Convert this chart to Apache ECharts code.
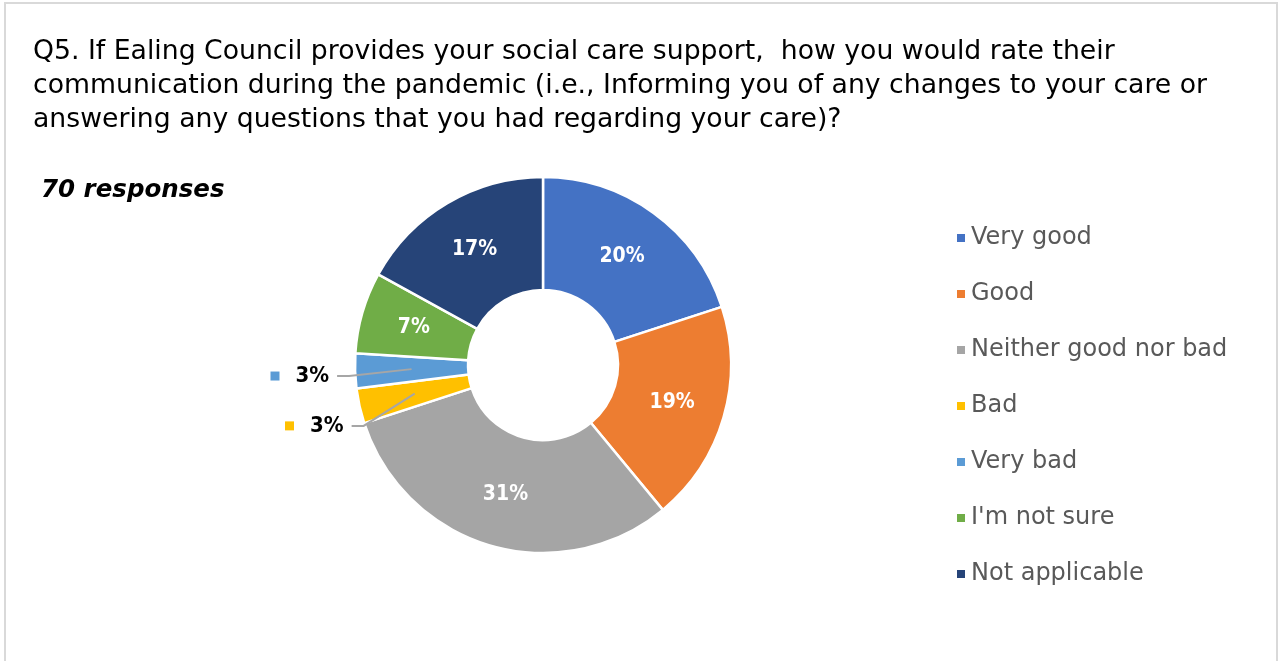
<!DOCTYPE html>
<html>
<head>
<meta charset="utf-8">
<script src="https://cdn.jsdelivr.net/npm/echarts@6/dist/echarts.min.js"></script>
<style>
  html, body { margin: 0; padding: 0; background: #fff; }
  #frame { position: absolute; left: 4px; top: 2px; width: 1274px; height: 700px;
           border: 2px solid #d9d9d9; box-sizing: border-box; }
  #chart { position: absolute; left: 0; top: 0; width: 1282px; height: 661px; }
</style>
</head>
<body>
<div id="frame"></div>
<div id="chart"></div>
<script>
// Survey answers and their share of the 70 responses (percent)
const categories = ['Very good', 'Good', 'Neither good nor bad', 'Bad', 'Very bad', "I'm not sure", 'Not applicable'];
const shares = [20, 19, 31, 3, 3, 7, 17];
const colors = ['#4472C4', '#ED7D31', '#A5A5A5', '#FFC000', '#5B9BD5', '#70AD47', '#264478'];
// Small slices get their label outside, with a leader line
const outsideLabelled = ['Bad', 'Very bad'];

const titleText = 'Q5. If Ealing Council provides your social care support,  how you would rate their\n' +
  'communication during the pandemic (i.e., Informing you of any changes to your care or\n' +
  'answering any questions that you had regarding your care)?';
const subtitleText = '70 responses';

const FONT = '"DejaVu Sans", sans-serif';
const LABEL_FONT = '"DejaVu Sans Condensed", "DejaVu Sans", sans-serif';

const PIE_CENTER = [543, 365];
const PIE_RADIUS = [75, 188];
// leader lines start from the middle of the ring
const MID_RING = (PIE_RADIUS[0] + PIE_RADIUS[1]) / 2;
// shift of the outside callouts from their default spot
const outsideNudge = { 'Very bad': [0, 5], 'Bad': [10, 19] };

function calloutLayout(params) {
  const nudge = outsideNudge[categories[params.dataIndex]];
  if (!nudge || !params.labelLinePoints) return {};
  const r = params.labelRect;
  const x = r.x + r.width + nudge[0];
  const y = r.y + r.height / 2 + nudge[1];
  // point on the slice's mid-ring along the same radius as the default leader start
  const p0 = params.labelLinePoints[0];
  const vx = p0[0] - PIE_CENTER[0], vy = p0[1] - PIE_CENTER[1];
  const len = Math.sqrt(vx * vx + vy * vy);
  const anchor = [PIE_CENTER[0] + vx / len * MID_RING, PIE_CENTER[1] + vy / len * MID_RING];
  const end = [x + 8, y];
  const elbow = [end[0] + 12, y];
  return {
    x: x, y: y, align: 'right', verticalAlign: 'middle',
    labelLinePoints: [anchor, elbow, end]
  };
}

// Ring slices with their inside percentages
const ringData = categories.map((name, i) => ({
  name: name, value: shares[i], itemStyle: { color: colors[i] },
  label: { show: !outsideLabelled.includes(name) }
}));

// Same slices again, invisible, carrying only the outside callouts so their
// leader lines are painted over the ring
const calloutData = categories.map((name, i) => {
  const item = { name: name, value: shares[i], label: { show: false }, labelLine: { show: false } };
  if (outsideLabelled.includes(name)) {
    item.label = {
      show: true,
      position: 'outside',
      distanceToLabelLine: 12,
      formatter: '{sq|}{v|{c}%}',
      rich: {
        sq: { width: 9, height: 9, backgroundColor: colors[i] },
        v: { fontSize: 22, fontWeight: 'bold', color: '#000', fontFamily: LABEL_FONT, padding: [0, 0, 0, 16] }
      }
    };
    item.labelLine = { show: true };
  }
  return item;
});

const chart = echarts.init(document.getElementById('chart'), null, { renderer: 'canvas' });
chart.setOption({
  animation: false,
  textStyle: { fontFamily: FONT },
  title: [
    {
      text: titleText, left: 28, top: 30,
      textStyle: { fontSize: 26.7, fontWeight: 'normal', color: '#000', lineHeight: 34, fontFamily: FONT }
    },
    {
      text: subtitleText, left: 36, top: 173,
      textStyle: { fontSize: 24.5, fontWeight: 'bold', fontStyle: 'italic', color: '#000', fontFamily: FONT }
    }
  ],
  legend: {
    orient: 'vertical', left: 950, top: 221,
    itemWidth: 10, itemHeight: 10, itemGap: 32, icon: 'rect',
    textStyle: { fontSize: 24, color: '#595959', lineHeight: 24, fontFamily: FONT },
    data: categories.map((name, i) => ({ name: name, itemStyle: { color: colors[i] } }))
  },
  series: [
    {
      type: 'pie',
      z: 2,
      center: PIE_CENTER,
      radius: PIE_RADIUS,
      startAngle: 90,
      clockwise: true,
      itemStyle: { borderColor: '#fff', borderWidth: 2.5 },
      label: {
        show: true, position: 'inside', formatter: '{c}%',
        fontSize: 21, fontWeight: 'bold', color: '#fff', fontFamily: LABEL_FONT
      },
      labelLine: { show: false },
      emphasis: { disabled: true },
      data: ringData
    },
    {
      type: 'pie',
      z: 3,
      silent: true,
      center: PIE_CENTER,
      radius: PIE_RADIUS,
      startAngle: 90,
      clockwise: true,
      itemStyle: { color: 'rgba(0,0,0,0)', borderWidth: 0 },
      labelLine: { show: false, length: 4, length2: 10, lineStyle: { color: '#a6a6a6', width: 2 } },
      labelLayout: calloutLayout,
      emphasis: { disabled: true },
      data: calloutData
    }
  ]
});
</script>
</body>
</html>
